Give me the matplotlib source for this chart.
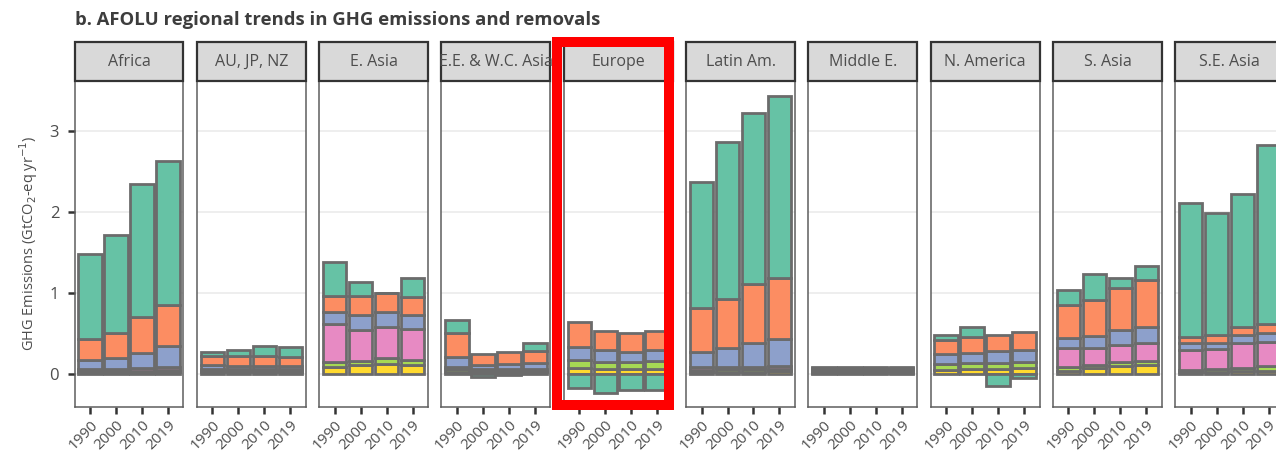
import matplotlib
matplotlib.use("Agg")
import matplotlib.pyplot as plt
from matplotlib.patches import Rectangle
from matplotlib import font_manager

# ---------------------------------------------------------------- data
regions = ["Africa", "AU, JP, NZ", "E. Asia", "E.E. & W.C. Asia", "Europe",
           "Latin Am.", "Middle E.", "N. America", "S. Asia", "S.E. Asia"]
years = ["1990", "2000", "2010", "2019"]

# GtCO2-eq per year; one row per region, one value per year.
# Stacked from the bottom up in this order.
fertiliser = [
    [0.02, 0.02, 0.02, 0.02],
    [0.02, 0.02, 0.02, 0.02],
    [0.09, 0.105, 0.125, 0.11],
    [0.02, 0.02, 0.02, 0.02],
    [0.07, 0.065, 0.065, 0.065],
    [0.02, 0.02, 0.02, 0.03],
    [0.015, 0.015, 0.015, 0.015],
    [0.053, 0.06, 0.06, 0.07],
    [0.04, 0.07, 0.10, 0.105],
    [0.02, 0.02, 0.03, 0.04],
]
manure = [
    [0.02, 0.02, 0.02, 0.025],
    [0.02, 0.02, 0.02, 0.02],
    [0.058, 0.055, 0.065, 0.058],
    [0.045, 0.02, 0.02, 0.02],
    [0.095, 0.085, 0.085, 0.09],
    [0.03, 0.035, 0.035, 0.035],
    [0.015, 0.015, 0.015, 0.015],
    [0.07, 0.07, 0.075, 0.08],
    [0.045, 0.04, 0.045, 0.055],
    [0.03, 0.045, 0.045, 0.055],
]
rice = [
    [0.02, 0.02, 0.03, 0.045],
    [0.02, 0.02, 0.02, 0.02],
    [0.462, 0.38, 0.39, 0.392],
    [0.02, 0.02, 0.02, 0.02],
    [0.0, 0.0, 0.0, 0.0],
    [0.03, 0.035, 0.035, 0.035],
    [0.01, 0.01, 0.01, 0.01],
    [0.0, 0.0, 0.0, 0.0],
    [0.235, 0.21, 0.215, 0.22],
    [0.25, 0.245, 0.30, 0.295],
]
soils = [
    [0.11, 0.14, 0.19, 0.25],
    [0.045, 0.04, 0.04, 0.04],
    [0.153, 0.185, 0.185, 0.17],
    [0.12, 0.045, 0.06, 0.075],
    [0.165, 0.14, 0.125, 0.14],
    [0.185, 0.225, 0.29, 0.33],
    [0.015, 0.015, 0.015, 0.015],
    [0.117, 0.125, 0.145, 0.15],
    [0.12, 0.145, 0.18, 0.20],
    [0.075, 0.07, 0.10, 0.115],
]
enteric = [
    [0.26, 0.31, 0.44, 0.51],
    [0.115, 0.12, 0.115, 0.11],
    [0.203, 0.24, 0.24, 0.22],
    [0.295, 0.145, 0.145, 0.145],
    [0.31, 0.24, 0.23, 0.24],
    [0.55, 0.61, 0.73, 0.76],
    [0.02, 0.02, 0.02, 0.02],
    [0.175, 0.20, 0.195, 0.22],
    [0.41, 0.445, 0.52, 0.575],
    [0.075, 0.095, 0.11, 0.11],
]
lulucf = [
    [1.05, 1.21, 1.65, 1.78],
    [0.045, 0.08, 0.135, 0.12],
    [0.42, 0.175, 0.0, 0.23],
    [0.16, -0.045, -0.01, 0.095],
    [-0.18, -0.24, -0.205, -0.205],
    [1.555, 1.945, 2.11, 2.24],
    [0.005, 0.005, 0.005, 0.005],
    [0.07, 0.12, -0.145, -0.05],
    [0.19, 0.33, 0.13, 0.18],
    [1.66, 1.515, 1.64, 2.215],
]

layers = [fertiliser, manure, rice, soils, enteric, lulucf]
layer_colors = ["#ffd92f", "#a6d854", "#e78ac3", "#8da0cb", "#fc8d62", "#66c2a5"]

# ---------------------------------------------------------------- style
available = {f.name for f in font_manager.fontManager.ttflist}
base_font = "Liberation Sans Narrow" if "Liberation Sans Narrow" in available else "Open Sans"
plt.rcParams["font.family"] = [base_font, "DejaVu Sans"]

TEXT = "#4d4d4d"
EDGE = "#6b6b6b"

W, H = 1276, 453
fig = plt.figure(figsize=(W / 100, H / 100), dpi=100)

panel_left0 = 74.5
panel_pitch = 122.3
panel_w = 109.0
panel_top = 81.0
panel_bottom = 407.0
strip_top = 42.0
strip_h = (panel_top - strip_top) / (panel_bottom - panel_top)

x_pos = list(range(1, len(years) + 1))

for i, region in enumerate(regions):
    left = panel_left0 + i * panel_pitch
    ax = fig.add_axes([left / W, 1 - panel_bottom / H, panel_w / W,
                       (panel_bottom - panel_top) / H])
    ax.set_xlim(0.4, 4.6)
    ax.set_ylim(-0.41, 3.62)
    ax.set_yticks([0, 1, 2, 3])
    ax.yaxis.grid(True, color="#ebebeb", linewidth=1.2)
    ax.set_axisbelow(True)

    pos_base = [0.0] * len(years)
    neg_base = [0.0] * len(years)
    for values, color in zip(layers, layer_colors):
        row = values[i]
        for j, v in enumerate(row):
            if v >= 0:
                b = pos_base[j]
                pos_base[j] += v
            else:
                neg_base[j] += v
                b = neg_base[j]
                v = -v
            ax.bar(x_pos[j], v, bottom=b, width=0.9, color=color,
                   edgecolor=EDGE, linewidth=2.0, zorder=2)

    for s in ax.spines.values():
        s.set_color("#5e5e5e")
        s.set_linewidth(1.1)

    ax.set_xticks(x_pos)
    ax.set_xticklabels(years, rotation=45, ha="right", va="top",
                       rotation_mode="anchor", fontsize=11, color=TEXT)
    ax.tick_params(axis="x", length=5, width=1.8, color="#333333", pad=2.5)
    if i == 0:
        ax.tick_params(axis="y", length=5, width=1.8, color="#333333",
                       labelsize=12, labelcolor=TEXT, pad=6)
    else:
        ax.tick_params(axis="y", left=False, labelleft=False)

    ax.add_patch(Rectangle((0, 1), 1, strip_h, transform=ax.transAxes,
                           facecolor="#d9d9d9", edgecolor="#333333",
                           linewidth=1.6, clip_on=False, zorder=5))
    ax.text(0.5, 1 + strip_h / 2, region, transform=ax.transAxes,
            ha="center", va="center", fontsize=11.5, color=TEXT, zorder=6)

fig.text(29 / W, 1 - 243 / H, r"GHG Emissions (GtCO$_2$-eq yr$^{-1}$)",
         rotation=90, ha="center", va="center", fontsize=10.5, color=TEXT)

fig.text(75 / W, 1 - 25 / H, "b. AFOLU regional trends in GHG emissions and removals",
         ha="left", va="baseline", fontsize=13.3, fontweight="bold",
         color="#3d3d3d")

# highlight frame around the Europe panel
fig.patches.append(Rectangle((557 / W, 1 - 405 / H), (669 - 557) / W,
                             (405 - 42) / H, transform=fig.transFigure,
                             fill=False, edgecolor="#ff0000", linewidth=7.2,
                             joinstyle="miter", zorder=10))

fig.savefig("out.png", dpi=100)
